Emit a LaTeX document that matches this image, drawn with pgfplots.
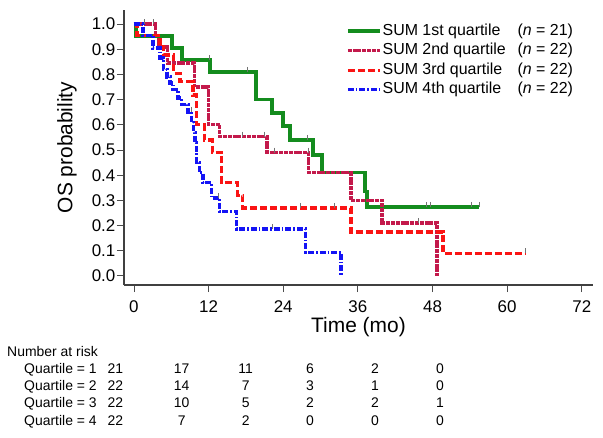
\documentclass[border=0pt]{standalone}
\usepackage{pgfplots}
\pgfplotsset{compat=1.18}
\usepackage{fontspec}
\setmainfont{Liberation Sans}
\definecolor{cgreen}{RGB}{20,140,30}
\definecolor{ccrim}{RGB}{195,25,75}
\definecolor{cred}{RGB}{250,20,20}
\definecolor{cblue}{RGB}{20,20,245}
\begin{document}
\begin{tikzpicture}
\begin{axis}[
  scale only axis, width=469bp, height=275bp,
  xmin=-1.6, xmax=73.8, ymin=-0.036, ymax=1.056,
  axis x line*=bottom, axis y line*=left,
  axis line style={-, line width=1.3bp, black!75},
  xtick={0,12,24,36,48,60,72},
  ytick={0,0.1,0.2,0.3,0.4,0.5,0.6,0.7,0.8,0.9,1},
  tick align=outside, major tick length=7bp,
  tick style={line width=0.9bp, black!70},
  /pgf/number format/assume math mode=true,
  yticklabel style={/pgf/number format/.cd, fixed, fixed zerofill, precision=1, /tikz/.cd, inner sep=1.5bp, font=\fontsize{17}{17}\selectfont},
  xticklabel style={inner sep=1bp, font=\fontsize{17}{17}\selectfont, yshift=-7bp},
  xlabel={Time (mo)}, ylabel={OS probability},
  every axis x label/.style={at={(axis description cs:0.5,0)}, anchor=base, yshift=-47bp, inner sep=0pt, font=\fontsize{21}{21}\selectfont},
  every axis y label/.style={at={(axis description cs:0,0.5)}, anchor=center, rotate=90, yshift=57bp, font=\fontsize{21}{21}\selectfont},
  legend style={at={(axis description cs:0.473,0.9545)}, anchor=north west, draw=none, fill=none, inner sep=0pt, row sep=2.5bp, font=\fontsize{16}{16}\selectfont, nodes={inner sep=1bp, text height=11.5bp, text depth=3.5bp}, /tikz/every even column/.append style={column sep=6bp}},
  legend cell align=left,
  legend image code/.code={\draw[#1] (0bp,0bp) -- (32bp,0bp);},
  const plot,
]
\addplot[cgreen, line width=3.6bp] coordinates {(0,1) (0.3,0.952) (6.1,0.905) (7.7,0.857) (12.2,0.81) (19.6,0.70) (22.2,0.647) (24,0.595) (25.1,0.54) (28.8,0.48) (30.2,0.41) (37.1,0.335) (37.5,0.274) (55.5,0.274)};
\addlegendentry{\makebox[135bp][l]{SUM 1st quartile}(\textit{n} = 21)}
\addplot[ccrim, line width=3.3bp, dash pattern=on 4bp off 0.8bp] coordinates {(0,1) (3.5,0.955) (4.0,0.909) (5.4,0.845) (9.7,0.75) (12.0,0.60) (13.8,0.553) (21.4,0.49) (28.1,0.41) (34.9,0.30) (39.9,0.21) (48.7,0)};
\addlegendentry{\makebox[135bp][l]{SUM 2nd quartile}(\textit{n} = 22)}
\addplot[cred, line width=3.3bp, dash pattern=on 7bp off 3bp] coordinates {(0,1) (0.5,0.955) (4.2,0.91) (4.8,0.877) (6.4,0.804) (7.4,0.771) (9.5,0.718) (10.1,0.60) (11.3,0.54) (12.6,0.49) (14.1,0.37) (16.7,0.32) (17.5,0.27) (34.9,0.175) (49.7,0.09) (62.9,0.09)};
\addlegendentry{\makebox[135bp][l]{SUM 3rd quartile}(\textit{n} = 22)}
\addplot[cblue, line width=3.3bp, dash pattern=on 6bp off 2bp on 1.5bp off 2bp] coordinates {(0,1) (1.45,0.955) (3.05,0.905) (4.2,0.865) (4.7,0.82) (5.3,0.79) (5.8,0.766) (6.3,0.74) (7.1,0.706) (7.7,0.68) (8.7,0.65) (9.3,0.61) (9.6,0.57) (9.8,0.53) (10.0,0.49) (10.1,0.45) (10.5,0.41) (11.1,0.37) (12.5,0.31) (13.8,0.255) (16.5,0.186) (27.6,0.093) (33.3,0.0)};
\addlegendentry{\makebox[135bp][l]{SUM 4th quartile}(\textit{n} = 22)}
\addplot[forget plot, only marks, mark=|, mark size=2.5bp, black!55, mark options={line width=0.7bp, yshift=2.5bp}] coordinates {(12.1,0.857) (18.3,0.81) (27.8,0.54) (47.0,0.274) (47.6,0.274) (54.3,0.274) (55.5,0.274) (1.7,1) (3.1,1) (17.4,0.553) (20.9,0.553) (22.5,0.49) (28.0,0.49) (45.7,0.21) (26.8,0.27) (32.2,0.27) (62.9,0.09) (9.2,0.65) (13.6,0.31) (22.3,0.186)};
\end{axis}
\begin{scope}[font=\fontsize{14}{14}\selectfont]
\node[anchor=base west, inner sep=0pt] at (-117bp,-71bp) {Number at risk};
\node[anchor=base west, inner sep=0pt] at (-100bp,-88bp) {Quartile = 1};
\node[anchor=base west, inner sep=0pt] at (-100bp,-105.7bp) {Quartile = 2};
\node[anchor=base west, inner sep=0pt] at (-100bp,-122.7bp) {Quartile = 3};
\node[anchor=base west, inner sep=0pt] at (-100bp,-140bp) {Quartile = 4};
\foreach \y/\a/\b/\c/\d/\e/\f in {-88/21/17/11/6/2/0, -105.7/22/14/7/3/1/0, -122.7/22/10/5/2/2/1, -140/22/7/2/0/0/0}{
  \node[anchor=base, inner sep=0pt] at (-8.5bp,\y bp) {\a};
  \node[anchor=base, inner sep=0pt] at (57.7bp,\y bp) {\b};
  \node[anchor=base, inner sep=0pt] at (121.7bp,\y bp) {\c};
  \node[anchor=base, inner sep=0pt] at (186bp,\y bp) {\d};
  \node[anchor=base, inner sep=0pt] at (251bp,\y bp) {\e};
  \node[anchor=base, inner sep=0pt] at (316bp,\y bp) {\f};
}
\end{scope}
\pgfresetboundingbox
\path[use as bounding box] (-124bp,-153bp) rectangle (479bp,285bp);
\end{tikzpicture}
\end{document}
